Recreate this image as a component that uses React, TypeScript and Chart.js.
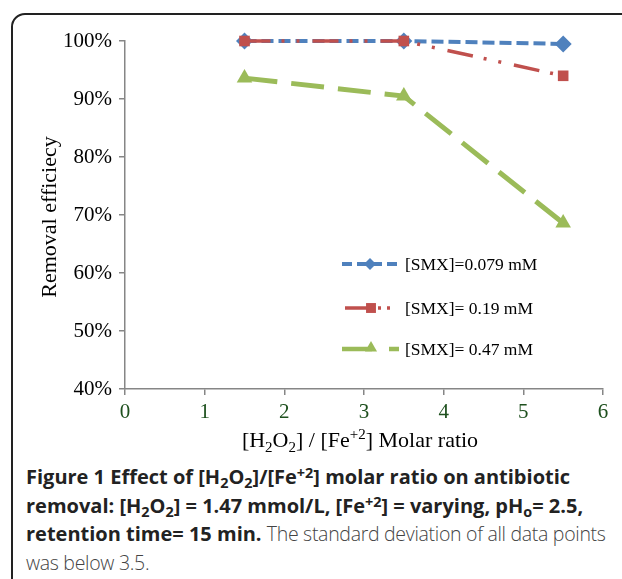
import React, { useEffect, useRef } from 'react';
import { Chart, registerables } from 'chart.js';

Chart.register(...registerables);

const ratios = [1.5, 3.5, 5.5];
const smx0079 = [100, 100, 99.5];
const smx019 = [100, 100, 94];
const smx047 = [93.6, 90.5, 68.6];
const seriesLabels = ['[SMX]=0.079 mM', '[SMX]= 0.19 mM', '[SMX]= 0.47 mM'];
const yTitle = 'Removal efficiecy';
const xTicks = [0, 1, 2, 3, 4, 5, 6];
const yTicks = [40, 50, 60, 70, 80, 90, 100];

const BLUE = '#4F81BD';
const RED = '#C0504D';
const GREEN = '#9BBB59';
const SERIF = '"Liberation Serif", "Times New Roman", serif';

type Piece = { t: string; s?: 'sub' | 'sup' };
const xTitlePieces: Piece[] = [
  { t: '[H' }, { t: '2', s: 'sub' }, { t: 'O' }, { t: '2', s: 'sub' },
  { t: '] / [Fe' }, { t: '+2', s: 'sup' }, { t: '] Molar ratio' },
];

function marker(ctx: CanvasRenderingContext2D, style: string, x: number, y: number, r: number, color: string) {
  ctx.save();
  ctx.setLineDash([]);
  ctx.fillStyle = color;
  ctx.beginPath();
  if (style === 'rectRot') {
    ctx.moveTo(x, y - r); ctx.lineTo(x + r, y); ctx.lineTo(x, y + r); ctx.lineTo(x - r, y);
  } else if (style === 'rect') {
    const h = r * Math.SQRT1_2;
    ctx.rect(x - h, y - h, 2 * h, 2 * h);
  } else {
    const a = -Math.PI / 2;
    for (let i = 0; i < 3; i++) {
      const ang = a + (i * 2 * Math.PI) / 3;
      const px = x + Math.cos(ang) * r, py = y + Math.sin(ang) * r;
      if (i === 0) ctx.moveTo(px, py); else ctx.lineTo(px, py);
    }
  }
  ctx.closePath();
  ctx.fill();
  ctx.restore();
}

const overlayPlugin = {
  id: 'overlay',
  afterDraw(chart: any) {
    const ctx: CanvasRenderingContext2D = chart.ctx;
    ctx.save();
    // y title
    ctx.fillStyle = '#000';
    ctx.font = `22px ${SERIF}`;
    ctx.textAlign = 'center';
    ctx.textBaseline = 'middle';
    ctx.translate(36, 201);
    ctx.rotate(-Math.PI / 2);
    ctx.fillText(yTitle, 0, 0);
    ctx.setTransform(1, 0, 0, 1, 0, 0);

    // x title with sub/sup
    const big = `22px ${SERIF}`;
    const small = `15px ${SERIF}`;
    ctx.textAlign = 'left';
    ctx.textBaseline = 'alphabetic';
    let total = 0;
    for (const p of xTitlePieces) {
      ctx.font = p.s ? small : big;
      total += ctx.measureText(p.t).width;
    }
    let x = 346 - total / 2;
    const base = 431;
    for (const p of xTitlePieces) {
      ctx.font = p.s ? small : big;
      const dy = p.s === 'sub' ? 5 : p.s === 'sup' ? -8 : 0;
      ctx.fillText(p.t, x, base + dy);
      x += ctx.measureText(p.t).width;
    }

    // legend
    const rows = [248, 292, 333];
    const tx = 391;
    ctx.lineCap = 'butt';
    // blue
    ctx.strokeStyle = BLUE; ctx.lineWidth = 4;
    ctx.setLineDash([10, 5]);
    ctx.beginPath(); ctx.moveTo(328, rows[0]); ctx.lineTo(385, rows[0]); ctx.stroke();
    marker(ctx, 'rectRot', 356, rows[0], 6, BLUE);
    // red
    ctx.strokeStyle = RED; ctx.lineWidth = 3.5;
    ctx.setLineDash([30, 3, 3, 6, 3, 100]);
    ctx.beginPath(); ctx.moveTo(331, rows[1]); ctx.lineTo(380, rows[1]); ctx.stroke();
    marker(ctx, 'rect', 357, rows[1], 7, RED);
    // green
    ctx.strokeStyle = GREEN; ctx.lineWidth = 4.5;
    ctx.setLineDash([30, 17, 10]);
    ctx.beginPath(); ctx.moveTo(328, rows[2]); ctx.lineTo(386, rows[2]); ctx.stroke();
    marker(ctx, 'triangle', 357, rows[2] - 1, 7, GREEN);

    ctx.setLineDash([]);
    ctx.fillStyle = '#000';
    ctx.font = `17.5px ${SERIF}`;
    ctx.textBaseline = 'middle';
    seriesLabels.forEach((l, i) => ctx.fillText(l, tx, rows[i] + 1));
    ctx.restore();
  },
};

function ChartBox() {
  const ref = useRef<HTMLCanvasElement>(null);
  useEffect(() => {
    if (!ref.current) return;
    const mk = (vals: number[]) => ratios.map((x, i) => ({ x, y: vals[i] }));
    const chart = new Chart(ref.current, {
      type: 'line',
      data: {
        datasets: [
          {
            label: seriesLabels[0], data: mk(smx0079), borderColor: BLUE, backgroundColor: BLUE,
            borderWidth: 4, borderDash: [12, 5], pointStyle: 'rectRot', pointRadius: 8.5,
            pointBorderWidth: 0, pointBackgroundColor: BLUE, order: 3, clip: false, tension: 0,
          },
          {
            label: seriesLabels[1], data: mk(smx019), borderColor: RED, backgroundColor: RED,
            borderWidth: 3.5, borderDash: [26, 11, 3, 12, 3, 13], pointStyle: 'rect', pointRadius: 7.5,
            pointBorderWidth: 0, pointBackgroundColor: RED, order: 2, clip: false, tension: 0,
          },
          {
            label: seriesLabels[2], data: mk(smx047), borderColor: GREEN, backgroundColor: GREEN,
            borderWidth: 5, borderDash: [33, 14], pointStyle: 'triangle', pointRadius: 9,
            pointBorderWidth: 0, pointBackgroundColor: GREEN, order: 1, clip: false, tension: 0,
          },
        ] as any,
      },
      options: {
        animation: false,
        responsive: false,
        devicePixelRatio: 1,
        layout: { padding: { top: 25, right: 19, left: 0, bottom: 0 } },
        plugins: { legend: { display: false }, tooltip: { enabled: false }, title: { display: false } },
        scales: {
          x: {
            type: 'linear', min: 0, max: 6,
            afterBuildTicks: (s: any) => { s.ticks = xTicks.map((v) => ({ value: v })); },
            afterFit: (s: any) => { s.height = 72; },
            ticks: { color: '#1e501e', font: { family: SERIF, size: 21 }, padding: 5, maxRotation: 0 },
            grid: { display: true, drawOnChartArea: false, drawTicks: true, tickLength: 6, color: '#868686', lineWidth: 1.5 },
            border: { display: true, color: '#868686', width: 1.5 },
          },
          y: {
            type: 'linear', min: 40, max: 100,
            afterBuildTicks: (s: any) => { s.ticks = yTicks.map((v) => ({ value: v })); },
            afterFit: (s: any) => { s.width = 111; },
            ticks: { color: '#000', font: { family: SERIF, size: 21 }, padding: 7, callback: (v: any) => `${v}%` },
            grid: { display: true, drawOnChartArea: false, drawTicks: true, tickLength: 6, color: '#868686', lineWidth: 1.5 },
            border: { display: true, color: '#868686', width: 1.5 },
          },
        },
      } as any,
      plugins: [overlayPlugin],
    });
    return () => chart.destroy();
  }, []);
  return (
    <canvas
      ref={ref}
      width={608}
      height={445}
      style={{ position: 'absolute', left: 14, top: 16, width: 608, height: 445 }}
    />
  );
}

const subStyle: React.CSSProperties = { fontSize: '0.72em', lineHeight: 0, verticalAlign: '-0.25em' };
const supStyle: React.CSSProperties = { fontSize: '0.72em', lineHeight: 0, verticalAlign: '0.45em' };
const lightStyle: React.CSSProperties = { color: '#444', fontWeight: 300, fontSize: 19.5, letterSpacing: '-0.3px' };

export default function App() {
  return (
    <div style={{ position: 'fixed', left: 0, top: 0, width: 622, height: 579, overflow: 'hidden', background: '#fff' }}>
      <div
        style={{
          position: 'absolute', left: 11, top: 13, width: 700, height: 700,
          border: '2px solid #222', borderRadius: 14, boxSizing: 'border-box',
        }}
      />
      <ChartBox />
      <div
        style={{
          position: 'absolute', left: 26, top: 463, whiteSpace: 'nowrap',
          fontFamily: '"Open Sans", sans-serif', fontSize: 20, lineHeight: '28.5px', color: '#222',
        }}
      >
        <b>Figure 1 Effect of [H<sub style={subStyle}>2</sub>O<sub style={subStyle}>2</sub>]/[Fe<sup style={supStyle}>+2</sup>] molar ratio on antibiotic</b>
        <br />
        <b>removal: [H<sub style={subStyle}>2</sub>O<sub style={subStyle}>2</sub>] = 1.47 mmol/L, [Fe<sup style={supStyle}>+2</sup>] = varying, pH<sub style={subStyle}>o</sub>= 2.5,</b>
        <br />
        <b>retention time= 15 min.</b> <span style={lightStyle}>The standard deviation of all data points</span>
        <br />
        <span style={lightStyle}>was below 3.5.</span>
      </div>
    </div>
  );
}
